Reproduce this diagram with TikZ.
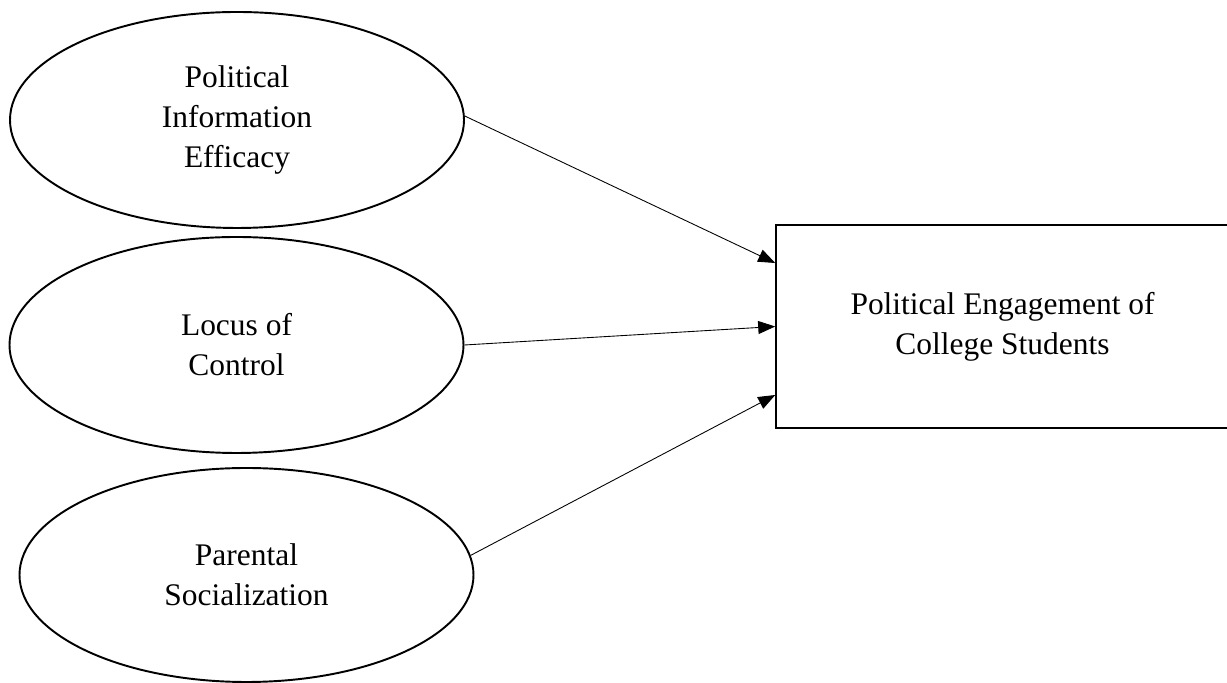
\documentclass[tikz,border=0pt]{standalone}
\usepackage{fontspec}
\setmainfont{Liberation Serif}
\usetikzlibrary{shapes.geometric,arrows.meta}
\begin{document}
\begin{tikzpicture}[
        factor/.style={ellipse, draw, line width=1.1pt, minimum width=9.08cm, minimum height=4.32cm, inner sep=0pt, align=center},
        outcome/.style={rectangle, draw, line width=0.9pt, minimum width=9.06cm, minimum height=4.06cm, inner sep=0pt, align=center},
        link/.style={-{Triangle[length=0.34cm, width=0.26cm]}, line width=0.5pt},
        every node/.style={font=\fontsize{17.9}{22.8}\selectfont}
    ]
        \useasboundingbox (0,0) rectangle (24.54,13.66);

        % Ba bien doc lap
        \node[factor] (pie) at (4.74,11.26) {Political\\Information\\Efficacy};
        \node[factor] (loc) at (4.73,6.76) {Locus of\\Control};
        \node[factor, minimum height=4.28cm] (ps) at (4.93,2.16) {Parental\\Socialization};

        % Bien phu thuoc
        \node[outcome] (peng) at (20.05,7.13) {Political Engagement of\\College Students};

        % Cac mui ten
        \draw[link] (pie.1) -- ([yshift=1.27cm]peng.west);
        \draw[link] (loc.east) -- (peng.west);
        \draw[link] (ps.5) -- ([yshift=-1.37cm]peng.west);
    \end{tikzpicture}
\end{document}
